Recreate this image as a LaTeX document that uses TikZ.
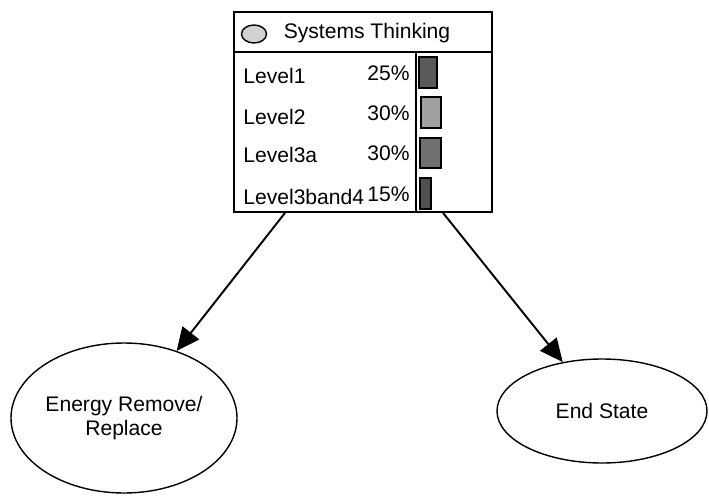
\documentclass[tikz,border=0pt]{standalone}
\usepackage{fontspec}
\setmainfont{Liberation Sans}
\usepackage{tikz}
\usetikzlibrary{shapes.geometric, arrows.meta}
\definecolor{barone}{HTML}{5A5A5A}
\definecolor{bartwo}{HTML}{A0A0A0}
\definecolor{barthree}{HTML}{707070}
\definecolor{barfour}{HTML}{505050}
\tikzstyle{panel} = [rectangle, minimum width=5.16cm, inner sep=0pt, draw=black, line width=1pt]
\tikzstyle{state} = [ellipse, draw=black, line width=0.8pt, align=center, inner sep=0pt]
\tikzstyle{lvl} = [anchor=west, inner sep=0pt]
\tikzstyle{pct} = [anchor=east, inner sep=0pt]
\tikzstyle{bar} = [draw=black, line width=1pt]
\tikzstyle{arrow} = [line width=1.1pt,-{Triangle[length=0.46cm,width=0.42cm]}]

\begin{document}
\begin{tikzpicture}[font=\fontsize{12}{14}\selectfont]
	\useasboundingbox (0,0) rectangle (14.18,9.9);
	\node (title) [panel, minimum height=0.8cm] at (7.26,9.26) {};
	\node (body) [panel, minimum height=3.2cm] at (7.26,7.26) {};
	\draw [line width=1pt] (8.32,0 |- body.north) -- (8.32,0 |- body.south);
	\node (dot) [ellipse, draw=black, line width=0.8pt, fill=gray!35, minimum width=0.5cm, minimum height=0.36cm, inner sep=0pt] at (5.08,9.22) {};
	\node (name) at (7.34,9.24) {Systems Thinking};
	
	\node (l1) [lvl] at (4.86,8.38) {Level1};
	\node (l2) [lvl] at (4.86,7.56) {Level2};
	\node (l3) [lvl] at (4.86,6.80) {Level3a};
	\node (l4) [lvl] at (4.86,5.96) {Level3band4};
	\node (p1) [pct] at (8.20,8.44) {25\%};
	\node (p2) [pct] at (8.20,7.64) {30\%};
	\node (p3) [pct] at (8.20,6.84) {30\%};
	\node (p4) [pct] at (8.20,6.02) {15\%};
	\draw [bar, fill=barone] (8.38,8.14) rectangle (8.74,8.76);
	\draw [bar, fill=bartwo] (8.42,7.34) rectangle (8.82,7.96);
	\draw [bar, fill=barthree] (8.40,6.54) rectangle (8.82,7.14);
	\draw [bar, fill=barfour] (8.40,5.72) rectangle (8.62,6.34);
	
	\node (energy) [state, minimum width=4.52cm, minimum height=3.0cm] at (2.48,1.54) {Energy Remove/\\Replace};
	\node (endst) [state, minimum width=4.2cm, minimum height=2.08cm] at (12.04,1.68) {End State};
	
	\draw [arrow] ([xshift=-1.56cm]body.south) -- (energy);
	\draw [arrow] ([xshift=1.60cm]body.south) -- (endst);
\end{tikzpicture}
\end{document}
